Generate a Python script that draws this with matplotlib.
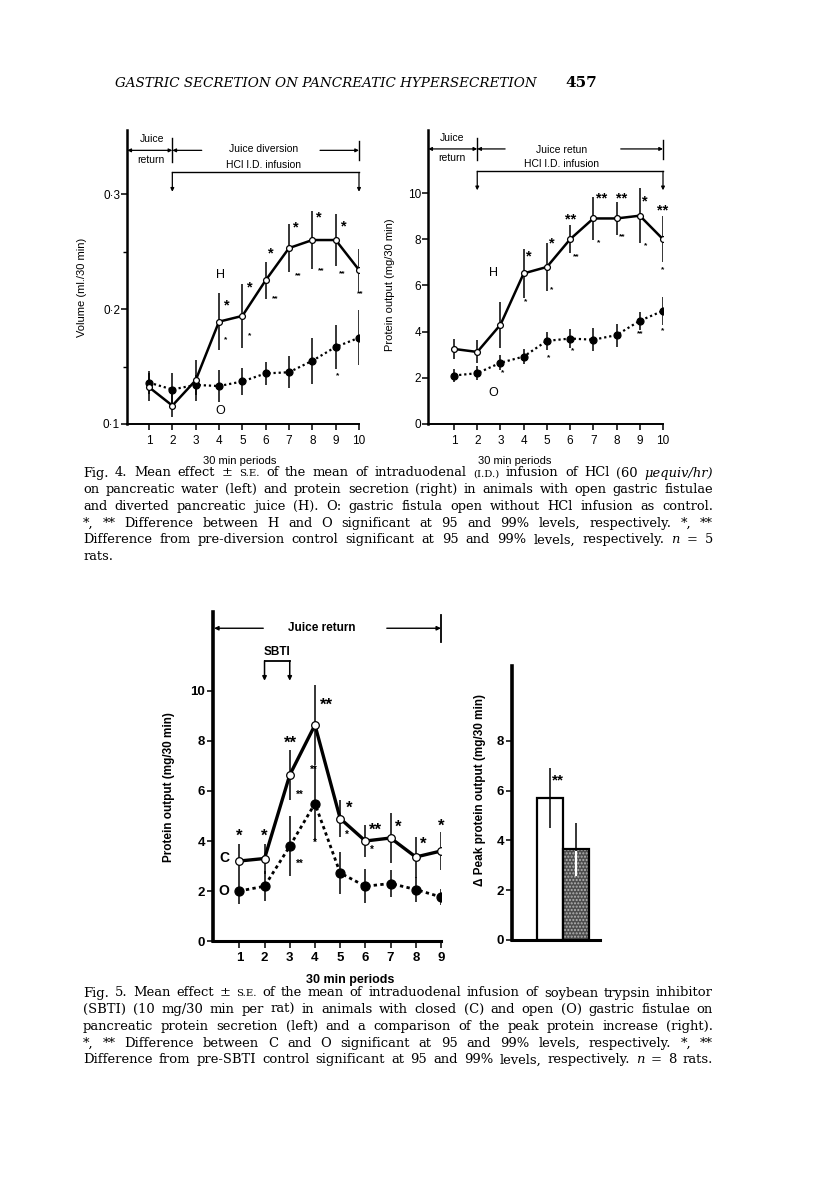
import matplotlib
matplotlib.use('Agg')
import matplotlib.pyplot as plt
import numpy as np

# ---------------- data ----------------
periods10 = [1, 2, 3, 4, 5, 6, 7, 8, 9, 10]
vol_H = [0.132, 0.116, 0.138, 0.189, 0.194, 0.225, 0.253, 0.260, 0.260, 0.234]
vol_H_se = [0.012, 0.010, 0.018, 0.025, 0.028, 0.016, 0.021, 0.025, 0.023, 0.018]
vol_O = [0.136, 0.130, 0.134, 0.133, 0.137, 0.144, 0.145, 0.155, 0.167, 0.175]
vol_O_se = [0.010, 0.014, 0.009, 0.014, 0.012, 0.010, 0.014, 0.020, 0.019, 0.024]

prot_H = [3.25, 3.12, 4.30, 6.52, 6.80, 8.00, 8.90, 8.90, 9.02, 8.00]
prot_H_se = [0.45, 0.50, 1.00, 1.05, 1.05, 0.60, 0.95, 0.70, 1.20, 1.00]
prot_O = [2.10, 2.20, 2.65, 2.92, 3.60, 3.70, 3.65, 3.85, 4.47, 4.90]
prot_O_se = [0.27, 0.30, 0.33, 0.32, 0.40, 0.40, 0.50, 0.50, 0.38, 0.60]

periods9 = [1, 2, 3, 4, 5, 6, 7, 8, 9]
sbti_C = [3.20, 3.30, 6.64, 8.64, 4.90, 4.00, 4.12, 3.36, 3.60]
sbti_C_se = [0.70, 0.60, 1.00, 1.60, 0.75, 0.65, 1.00, 0.82, 0.75]
sbti_O = [2.00, 2.19, 3.79, 5.50, 2.72, 2.19, 2.30, 2.06, 1.76]
sbti_O_se = [0.50, 0.60, 1.20, 1.50, 0.84, 0.68, 0.55, 0.50, 0.32]

peak_groups = ['C', 'O']
peak_vals = [5.71, 3.64]
peak_se = [1.20, 1.05]

vol_ticks = [0.1, 0.2, 0.3]
vol_ticklabels = ['0·1', '0·2', '0·3']
prot_ticks = [0, 2, 4, 6, 8, 10]
peak_ticks = [0, 2, 4, 6, 8]

# significance marks (period, value-position, label)
vol_big = [(4.33, 0.203, '*'), (5.30, 0.219, '*'), (6.22, 0.248, '*'), (7.30, 0.271, '*'),
           (8.29, 0.280, '*'), (9.33, 0.272, '*')]
vol_small = [(4.30, 0.173, '*'), (5.33, 0.177, '*'), (6.40, 0.209, '**'), (7.40, 0.229, '**'),
             (8.36, 0.233, '**'), (9.29, 0.231, '**'), (10.04, 0.213, '**'), (9.09, 0.142, '*')]
prot_big = [(4.20, 7.25, '*'), (5.21, 7.80, '*'), (6.03, 8.84, '**'), (7.37, 9.75, '**'),
            (8.23, 9.75, '**'), (9.23, 9.64, '*'), (10.0, 9.25, '**')]
prot_small = [(4.10, 5.30, '*'), (5.21, 5.81, '*'), (6.26, 7.23, '**'), (7.22, 7.86, '*'),
              (8.25, 8.09, '**'), (9.23, 7.72, '*'), (10.0, 6.70, '*'),
              (3.10, 2.20, '*'), (5.06, 2.85, '*'), (6.12, 3.18, '*'), (9.02, 3.93, '**'),
              (10.0, 4.05, '*')]
sbti_big = [(1.00, 4.19, '*'), (1.98, 4.19, '*'), (3.01, 7.90, '**'), (4.47, 9.44, '**'),
            (5.35, 5.30, '*'), (6.38, 4.43, '**'), (7.31, 4.54, '*'), (8.30, 3.87, '*'),
            (9.00, 4.59, '*')]
sbti_small = [(3.38, 5.83, '**'), (3.38, 3.10, '**'), (3.96, 6.86, '**'), (3.98, 3.93, '*'),
              (5.26, 4.23, '*'), (6.25, 3.63, '*')]

header = 'GASTRIC SECRETION ON PANCREATIC HYPERSECRETION'
page_no = '457'
cap4 = ["Fig. 4. Mean effect ± ^S.E. of the mean of intraduodenal ^(I.D.) infusion of HCl (60 ~μequiv/hr)",
        "on pancreatic water (left) and protein secretion (right) in animals with open gastric fistulae",
        "and diverted pancreatic juice (H). O: gastric fistula open without HCl infusion as control.",
        "*, ** Difference between H and O significant at 95 and 99% levels, respectively. *, **",
        "Difference from pre-diversion control significant at 95 and 99% levels, respectively. ~n = 5",
        "rats."]
cap5 = ["Fig. 5. Mean effect ± ^S.E. of the mean of intraduodenal infusion of soybean trypsin inhibitor",
        "(SBTI) (10 mg/30 min per rat) in animals with closed (C) and open (O) gastric fistulae on",
        "pancreatic protein secretion (left) and a comparison of the peak protein increase (right).",
        "*, ** Difference between C and O significant at 95 and 99% levels, respectively. *, **",
        "Difference from pre-SBTI control significant at 95 and 99% levels, respectively. ~n = 8 rats."]

# ---------------- figure ----------------
W, H = 816, 1181
fig = plt.figure(figsize=(W / 100, H / 100), dpi=100)
fig.patch.set_facecolor('white')
SANS = ['Liberation Sans', 'DejaVu Sans']
SERIF = ['DejaVu Serif']


def ax_px(l, t, r, b):
    return fig.add_axes([l / W, 1 - b / H, (r - l) / W, (b - t) / H])


def style_axes(ax, bold, lwl, lwb, tsize):
    for s in ['top', 'right']:
        ax.spines[s].set_visible(False)
    ax.spines['left'].set_linewidth(lwl)
    ax.spines['bottom'].set_linewidth(lwb)
    ax.tick_params(direction='out', length=4, width=1.1, labelsize=tsize)
    for lab in ax.get_xticklabels() + ax.get_yticklabels():
        lab.set_family(SANS)
        if bold:
            lab.set_fontweight('bold')


def series(ax, x, y, se, filled, ls, lw, ms):
    ax.errorbar(x, y, yerr=se, fmt='none', ecolor='k', elinewidth=1.1, capsize=0, zorder=2)
    ax.plot(x, y, ls=ls, color='k', lw=lw, marker='o', ms=ms,
            mfc='k' if filled else 'white', mec='k', mew=0.9, zorder=3)


def arrow(ax, p0, p1, style='-|>', lw=1.0, ms=7):
    ax.annotate('', xy=p1, xytext=p0, annotation_clip=False,
                arrowprops=dict(arrowstyle=style, lw=lw, color='k', mutation_scale=ms,
                                shrinkA=0, shrinkB=0))


def marks(ax, big, small, bigsize, smallsize, bold):
    for x, y, s in big:
        ax.text(x, y, s, ha='center', va='center', fontsize=bigsize, family=SANS,
                fontweight='bold', zorder=5)
    for x, y, s in small:
        ax.text(x, y, s, ha='center', va='center', fontsize=smallsize, family=SANS,
                fontweight='bold' if bold else 'normal', zorder=5)


# ---- Fig 4 left ----
ax1 = ax_px(127, 130, 359, 424)
ax1.set_xlim(0.057, 10)
ax1.set_ylim(0.1, 0.3557)
series(ax1, periods10, vol_O, vol_O_se, True, (0, (1, 1.3)), 1.6, 5)
series(ax1, periods10, vol_H, vol_H_se, False, '-', 1.8, 4.2)
ax1.set_xticks(periods10)
ax1.set_yticks(vol_ticks)
ax1.set_yticklabels(vol_ticklabels)
ax1.set_yticks([0.15, 0.25], minor=True)
style_axes(ax1, False, 1.8, 1.4, 8.5)
ax1.tick_params(axis='x', pad=4)
ax1.tick_params(axis='y', pad=1)
ax1.tick_params(which='minor', direction='out', length=3, width=1.0)
ax1.set_ylabel('Volume (ml./30 min)', family=SANS, fontsize=8)
ax1.yaxis.set_label_coords(-0.172, 0.466)
ax1.set_xlabel('30 min periods', family=SANS, fontsize=8)
ax1.xaxis.set_label_coords(0.487, -0.108)
marks(ax1, vol_big, vol_small, 10.5, 6, True)
ax1.text(4.05, 0.230, 'H', ha='center', va='center', family=SANS, fontsize=9)
ax1.text(4.05, 0.111, 'O', ha='center', va='center', family=SANS, fontsize=9)
# header annotations
arrow(ax1, (2, 0.338), (0.07, 0.338), '<|-|>', 0.9, 5)
ax1.plot([2, 2], [0.3283, 0.3486], color='k', lw=1.0, clip_on=False)
arrow(ax1, (3.26, 0.338), (2.0, 0.338), '-|>', 0.9, 5)
arrow(ax1, (8.33, 0.338), (10.0, 0.338), '-|>', 0.9, 5)
ax1.plot([10, 10], [0.330, 0.346], color='k', lw=1.0, clip_on=False)
ax1.text(1.12, 0.3477, 'Juice', ha='center', va='center', family=SANS, fontsize=7.5)
ax1.text(1.08, 0.3300, 'return', ha='center', va='center', family=SANS, fontsize=7.5)
ax1.text(5.9, 0.339, 'Juice diversion', ha='center', va='center', family=SANS, fontsize=7.5)
ax1.text(5.9, 0.3255, 'HCl I.D. infusion', ha='center', va='center', family=SANS, fontsize=7.5)
ax1.plot([2, 10], [0.3188, 0.3188], color='k', lw=1.0, clip_on=False)
arrow(ax1, (2, 0.3188), (2, 0.302), '-|>', 0.9, 5)
arrow(ax1, (10, 0.3188), (10, 0.302), '-|>', 0.9, 5)

# ---- Fig 4 right ----
ax2 = ax_px(428, 130, 663, 424)
ax2.set_xlim(-0.121, 10)
ax2.set_ylim(0, 12.73)
series(ax2, periods10, prot_O, prot_O_se, True, (0, (1, 1.3)), 1.6, 5)
series(ax2, periods10, prot_H, prot_H_se, False, '-', 1.8, 4.2)
ax2.set_xticks(periods10)
ax2.set_yticks(prot_ticks)
style_axes(ax2, False, 1.8, 1.4, 8.5)
ax2.tick_params(axis='x', pad=4)
ax2.tick_params(axis='y', pad=1)
ax2.set_ylabel('Protein output (mg/30 min)', family=SANS, fontsize=8)
ax2.yaxis.set_label_coords(-0.14, 0.473)
ax2.set_xlabel('30 min periods', family=SANS, fontsize=8)
ax2.xaxis.set_label_coords(0.37, -0.108)
marks(ax2, prot_big, prot_small, 10.5, 6, True)
ax2.text(2.68, 6.53, 'H', ha='center', va='center', family=SANS, fontsize=9)
ax2.text(2.68, 1.33, 'O', ha='center', va='center', family=SANS, fontsize=9)
arrow(ax2, (2, 11.91), (-0.11, 11.91), '<|-|>', 0.9, 5)
ax2.plot([2, 2], [11.45, 12.38], color='k', lw=1.0, clip_on=False)
arrow(ax2, (3.2, 11.91), (2.0, 11.91), '-|>', 0.9, 5)
arrow(ax2, (8.18, 11.91), (10.0, 11.91), '-|>', 0.9, 5)
ax2.plot([10, 10], [11.47, 12.31], color='k', lw=1.0, clip_on=False)
ax2.text(0.92, 12.38, 'Juice', ha='center', va='center', family=SANS, fontsize=7.5)
ax2.text(0.92, 11.50, 'return', ha='center', va='center', family=SANS, fontsize=7.5)
ax2.text(5.64, 11.88, 'Juice retun', ha='center', va='center', family=SANS, fontsize=7.5)
ax2.text(5.64, 11.25, 'HCl I.D. infusion', ha='center', va='center', family=SANS, fontsize=7.5)
ax2.plot([2, 10], [10.94, 10.94], color='k', lw=1.0, clip_on=False)
arrow(ax2, (2, 10.94), (2, 10.12), '-|>', 0.9, 5)
arrow(ax2, (10, 10.94), (10, 10.12), '-|>', 0.9, 5)

# ---- Fig 5 left ----
ax3 = ax_px(213, 612, 441, 941)
ax3.set_xlim(-0.044, 9)
ax3.set_ylim(0, 13.16)
series(ax3, periods9, sbti_O, sbti_O_se, True, (0, (1.2, 1.2)), 2.0, 6.5)
series(ax3, periods9, sbti_C, sbti_C_se, False, '-', 2.4, 5.5)
ax3.set_xticks(periods9)
ax3.set_yticks(prot_ticks)
style_axes(ax3, True, 2.6, 2.2, 9.5)
ax3.tick_params(axis='x', pad=3, length=5)
ax3.tick_params(axis='y', pad=1.5)
ax3.set_ylabel('Protein output (mg/30 min)', family=SANS, fontsize=8.5, fontweight='bold')
ax3.yaxis.set_label_coords(-0.167, 0.468)
ax3.set_xlabel('30 min periods', family=SANS, fontsize=9, fontweight='bold')
ax3.xaxis.set_label_coords(0.60, -0.099)
marks(ax3, sbti_big, sbti_small, 12, 7, True)
ax3.text(0.39, 3.34, 'C', ha='center', va='center', family=SANS, fontsize=10, fontweight='bold')
ax3.text(0.39, 2.00, 'O', ha='center', va='center', family=SANS, fontsize=10, fontweight='bold')
arrow(ax3, (1.95, 12.51), (0.0, 12.51), '-|>', 1.0, 6)
arrow(ax3, (6.85, 12.51), (9.0, 12.51), '-|>', 1.0, 6)
ax3.plot([9, 9], [11.98, 13.04], color='k', lw=1.3, clip_on=False)
ax3.text(4.27, 12.51, 'Juice return', ha='center', va='center', family=SANS, fontsize=8.5,
         fontweight='bold')
ax3.text(2.48, 11.56, 'SBTI', ha='center', va='center', family=SANS, fontsize=8.5,
         fontweight='bold')
ax3.plot([2, 3], [11.21, 11.21], color='k', lw=1.3, clip_on=False)
arrow(ax3, (2, 11.21), (2, 10.41), '-|>', 1.1, 6)
arrow(ax3, (3, 11.21), (3, 10.41), '-|>', 1.1, 6)

# ---- Fig 5 right ----
ax4 = ax_px(512, 666, 600, 940)
ax4.set_xlim(0, 3.385)
ax4.set_ylim(0, 11.0)
bx = [1.45, 2.47]
ax4.bar(bx[0], peak_vals[0], width=1.0, facecolor='white', edgecolor='k', lw=1.6, zorder=2)
ax4.bar(bx[1], peak_vals[1], width=1.0, facecolor='#4d4d4d', edgecolor='#b5b5b5',
        hatch='.....', lw=0, zorder=2)
ax4.bar(bx[1], peak_vals[1], width=1.0, fill=False, edgecolor='k', lw=1.6, zorder=3)
ax4.errorbar(bx, peak_vals, yerr=peak_se, fmt='none', ecolor='k', elinewidth=1.1,
             capsize=0, zorder=4)
ax4.plot([bx[1], bx[1]], [peak_vals[1] - peak_se[1], peak_vals[1] - 0.1], color='white',
         lw=1.6, zorder=5)
ax4.text(bx[0] + 0.33, 6.42, '**', ha='center', va='center', family=SANS, fontsize=11,
         fontweight='bold')
ax4.set_xticks([])
ax4.set_yticks(peak_ticks)
style_axes(ax4, True, 2.6, 2.2, 9.5)
ax4.tick_params(axis='y', pad=1.5)
ax4.set_ylabel('Δ Peak protein output (mg/30 min)', family=SANS, fontsize=8.5,
               fontweight='bold')
ax4.yaxis.set_label_coords(-0.30, 0.547)

# ---------------- page text ----------------
renderer = fig.canvas.get_renderer()
ht = fig.text(115 / W, 1 - 87 / H, header, family=SERIF, style='italic', fontsize=10.5,
              va='baseline', ha='left')
hw = ht.get_window_extent(renderer).width
ht.set_fontsize(10.5 * 422 / hw)
fig.text(597 / W, 1 - 87 / H, page_no, family=SERIF, fontweight='bold', fontsize=11,
         va='baseline', ha='right')


def word_kw(w, size):
    kw = dict(family=SERIF, fontsize=size)
    if w.startswith('^'):
        w = w[1:]
        kw['fontsize'] = size * 0.78
    if w.startswith('~'):
        w = w[1:]
        kw['style'] = 'italic'
    return w, kw


def measure(s, kw):
    t = fig.text(0, 0, s, **kw)
    wd = t.get_window_extent(renderer).width
    t.remove()
    return wd


def space_width(size):
    kw = dict(family=SERIF, fontsize=size)
    return measure('a a', kw) - measure('aa', kw)


def natural_width(line, size):
    words = line.split(' ')
    tot = 0.0
    for w in words:
        w2, kw = word_kw(w, size)
        tot += measure(w2, kw)
    return tot + space_width(size) * (len(words) - 1)


def put_lines(lines, x0, x1, base0, dy, justify_last=False):
    ref = 10.0
    jl = lines if justify_last else lines[:-1]
    mx = max(natural_width(l, ref) for l in jl)
    size = ref * (x1 - x0) / mx * 0.965
    sp = space_width(size)
    for i, line in enumerate(lines):
        yb = base0 + i * dy
        objs = []
        for w in line.split(' '):
            w2, kw = word_kw(w, size)
            objs.append(fig.text(0, 1 - yb / H, w2, va='baseline', ha='left', **kw))
        widths = [t.get_window_extent(renderer).width for t in objs]
        last = (i == len(lines) - 1) and not justify_last
        if len(objs) > 1 and not last:
            gap = (x1 - x0 - sum(widths)) / (len(objs) - 1)
        else:
            gap = sp
        x = x0
        for t, wd in zip(objs, widths):
            t.set_x(x / W)
            x += wd + gap


put_lines(cap4, 83, 713, 476.5, 16.7)
put_lines(cap5, 83, 713, 996.5, 16.7, justify_last=True)

fig.savefig('out.png', dpi=100, facecolor='white')
